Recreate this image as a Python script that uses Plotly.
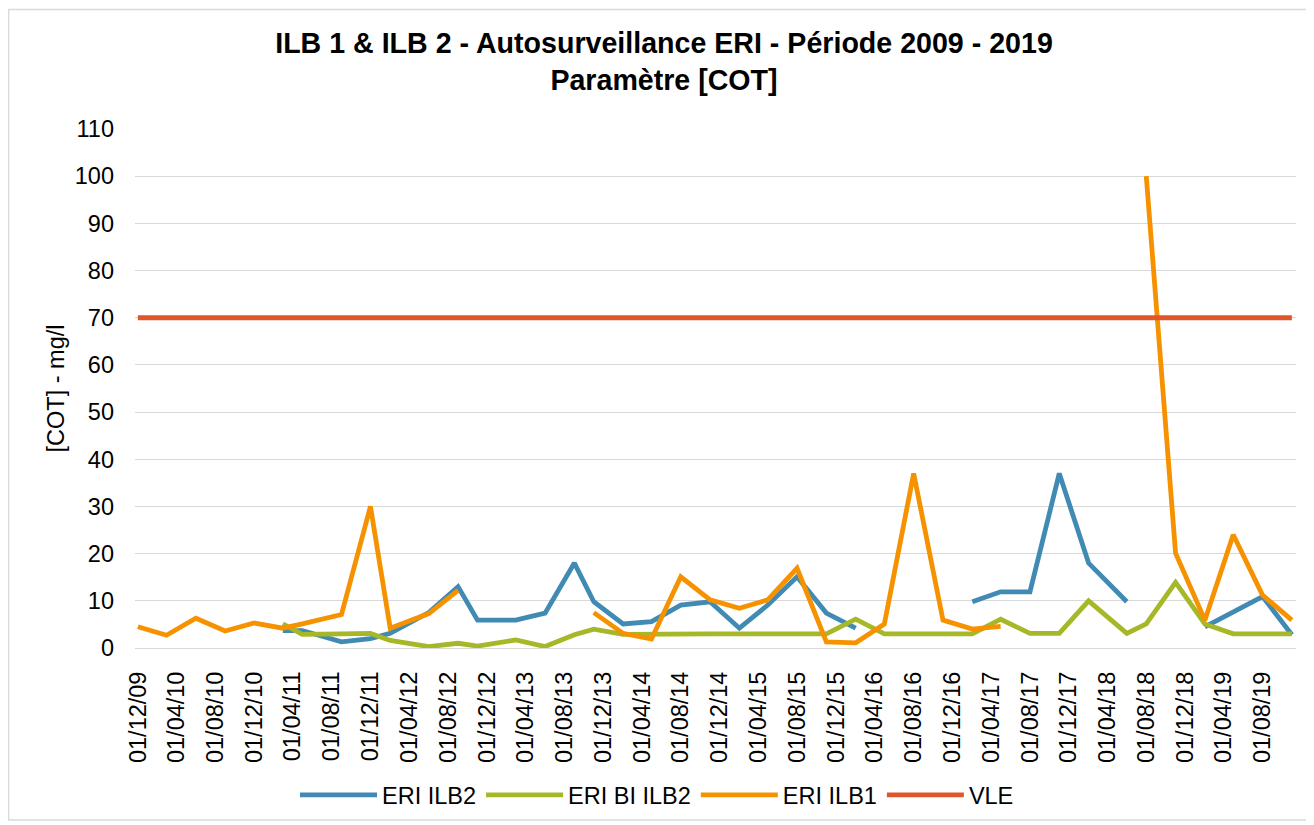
import plotly.graph_objects as go

# Sampling dates (first of month)
dates = [
    "2009-12-01", "2010-03-01", "2010-06-01", "2010-09-01", "2010-12-01",
    "2011-03-01", "2011-05-01", "2011-09-01", "2011-12-01", "2012-02-01",
    "2012-06-01", "2012-09-01", "2012-11-01", "2013-03-01", "2013-06-01",
    "2013-09-01", "2013-11-01", "2014-02-01", "2014-05-01", "2014-08-01",
    "2014-11-01", "2015-02-01", "2015-05-01", "2015-08-01", "2015-11-01",
    "2016-02-01", "2016-05-01", "2016-08-01", "2016-11-01", "2017-02-01",
    "2017-05-01", "2017-08-01", "2017-11-01", "2018-02-01", "2018-06-01",
    "2018-08-01", "2018-11-01", "2019-02-01", "2019-05-01", "2019-08-01",
    "2019-11-01",
]

eri_ilb2 = [
    None, None, None, None, None,
    3.7, 3.7, 1.3, 2.0, 3.1,
    7.5, 13.0, 5.9, 5.9, 7.4,
    18.0, 9.8, 5.1, 5.6, 9.1,
    9.8, 4.2, 9.1, 15.1, 7.4,
    4.2, None, None, None, 9.8,
    11.9, 11.9, 37.0, 18.0, 9.8,
    None, None, 4.5, 7.6, 10.9,
    2.8,
]

eri_bi_ilb2 = [
    None, None, None, None, None,
    5.1, 2.9, 3.0, 3.1, 1.6,
    0.3, 1.0, 0.4, 1.7, 0.3,
    2.8, 4.0, 2.9, 3.0, 3.0,
    3.0, 3.0, 3.0, 3.0, 3.0,
    6.1, 3.0, 3.0, 3.0, 3.0,
    6.1, 3.1, 3.1, 10.0, 3.1,
    5.1, 13.9, 5.1, 3.0, 3.0,
    3.0,
]

eri_ilb1 = [
    4.5, 2.7, 6.3, 3.6, 5.3,
    4.2, 5.1, 7.1, 30.0, 4.2,
    7.3, 12.2, None, None, None,
    None, 7.5, 3.1, 1.9, 15.1,
    10.2, 8.4, 10.2, 16.9, 1.3,
    1.1, 5.1, 37.0, 5.9, 4.0,
    4.6, None, None, None, None,
    100.0, 20.1, 5.9, 24.0, 11.2,
    5.9,
]

vle = [70] * len(dates)

series_names = ["ERI ILB2", "ERI BI ILB2", "ERI ILB1", "VLE"]
series_values = [eri_ilb2, eri_bi_ilb2, eri_ilb1, vle]
series_colors = ["#418AB3", "#A6B727", "#F69200", "#E0552A"]

FONT = "Liberation Sans, Arial, sans-serif"

# figure canvas (page adds an 8px body margin around it)
W, H = 1306, 817
ML, MR, MT, MB = 127, 18, 121, 177
PW, PH = W - ML - MR, H - MT - MB

fig = go.Figure()
for name, vals, col in zip(series_names, series_values, series_colors):
    fig.add_trace(go.Scatter(
        x=dates, y=vals, name=name, mode="lines",
        line=dict(color=col, width=4.8),
        connectgaps=False,
    ))

fig.update_layout(
    width=W, height=H,
    margin=dict(l=ML, r=MR, t=MT, b=MB, autoexpand=False),
    paper_bgcolor="white", plot_bgcolor="white",
    font=dict(family=FONT, size=23.5, color="#000000"),
    title=dict(
        text="ILB 1 & ILB 2 - Autosurveillance ERI - Période 2009 - 2019<br>Paramètre [COT]",
        x=656 / W, xanchor="center", y=1 - 45 / H, yanchor="middle",
        font=dict(family=FONT, size=28.6, color="#000000", weight="bold"),
    ),
    showlegend=True,
    legend=dict(
        orientation="h", x=(649 - ML) / PW, xanchor="center",
        y=(H - MB - 787) / PH, yanchor="middle",
        font=dict(family=FONT, size=23.5, color="#000000"),
        itemwidth=77, bgcolor="rgba(0,0,0,0)",
    ),
    xaxis=dict(
        type="date",
        range=["2009-11-22", "2019-11-14"],
        tickmode="linear", tick0="2009-12-01", dtick="M4",
        tickformat="%d/%m/%y", tickangle=-90,
        showgrid=False, zeroline=False,
        showline=True, linecolor="#D9D9D9", linewidth=1.3,
        ticks="", ticklabelstandoff=13,
        tickfont=dict(family=FONT, size=23.5, color="#000000"),
    ),
    yaxis=dict(
        range=[0, 110], tickmode="linear", tick0=0, dtick=10,
        showgrid=True, gridcolor="#D9D9D9", gridwidth=1.3,
        zeroline=False, showline=False, ticks="",
        ticklabelstandoff=20,
        tickfont=dict(family=FONT, size=23.5, color="#000000"),
        title=dict(text="[COT] - mg/l", standoff=3,
                   font=dict(family=FONT, size=23.5, color="#000000")),
    ),
)

# outer chart border
fig.add_shape(type="rect", xref="paper", yref="paper",
              x0=(0.7 - ML) / PW, x1=(1301 - ML) / PW,
              y0=(H - MB - 812) / PH, y1=(H - MB - 1.5) / PH,
              line=dict(color="#D9D9D9", width=1.3), fillcolor="rgba(0,0,0,0)",
              layer="below")

fig.write_html("out.html")
